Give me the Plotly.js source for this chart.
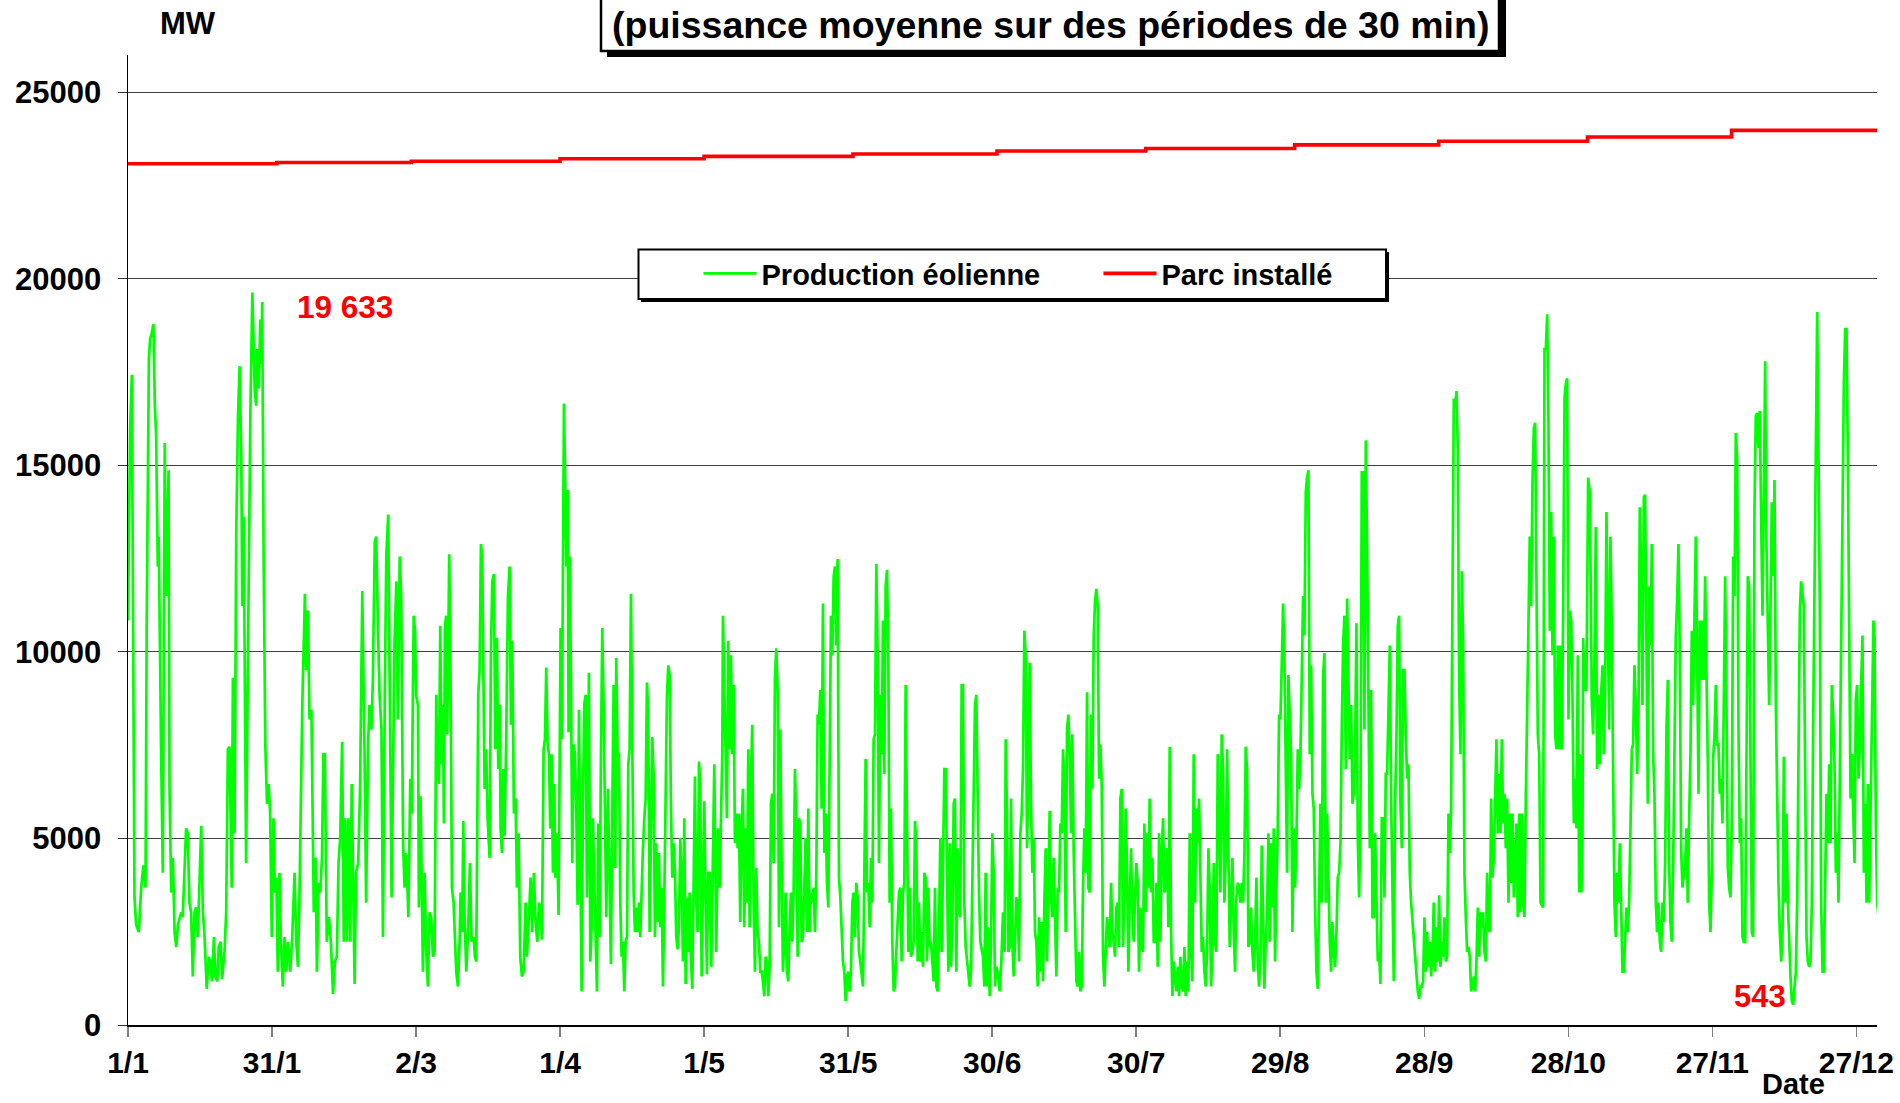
<!DOCTYPE html>
<html>
<head>
<meta charset="utf-8">
<script src="https://cdn.plot.ly/plotly-3.0.1.min.js"></script>
<style>html,body{margin:0;padding:0;background:#fff;}#chart{width:1900px;height:1103px;}</style>
</head>
<body>
<div id="chart"></div>
<script>
// ---- Data (day of year from 1 January, MW) ----
const tickDays = [0,30,60,90,120,150,180,210,240,270,300,330,360];
const tickLabels = ['1/1','31/1','2/3','1/4','1/5','31/5','30/6','30/7','29/8','28/9','28/10','27/11','27/12'];
const yTickVals = [0,5000,10000,15000,20000,25000];
const yTickLabels = ['0','5000','10000','15000','20000','25000'];

const capacityDays = [0,31,59,90,120,151,181,212,243,273,304,334,365];
const capacityMW = [23087,23119,23151,23218,23283,23347,23428,23494,23590,23687,23802,23979,23979];

const maxLabel = '19 633';
const minLabel = '543';

const prodJanFeb = [[0,10840],[0.45,16000],[0.8,17430],[1.35,3420],[1.7,2690],[2.25,2490],[2.75,3680],[3.2,4280],[3.65,3680],[3.9,10840],[4.35,17850],[4.6,18380],[4.9,18520],[5.3,18780],[5.6,16530],[5.85,15870],[6.2,12290],[6.4,13090],[6.9,7260],[7.25,4080],[7.65,15600],[7.95,11500],[8.45,14870],[8.65,6330],[9.0,3550],[9.35,4480],[9.7,2490],[10.05,2090],[10.4,2690],[10.75,2890],[11.1,3020],[11.4,2890],[11.8,4610],[12.1,5270],[12.45,5140],[12.8,3280],[13.15,3020],[13.5,1300],[13.85,3020],[14.2,3150],[14.55,2360],[14.9,3810],[15.25,5340],[15.6,3020],[15.9,2490],[16.4,970],[16.85,1830],[17.1,1700],[17.5,1170],[17.9,2360],[18.2,1300],[18.6,1170],[18.9,2090],[19.3,2230],[19.6,1230],[20.1,1960],[20.45,3020],[20.8,7390],[21.15,7460],[21.6,3680],[21.85,9310],[22.2,5140],[22.55,13220],[22.9,16270],[23.25,17660],[23.6,15200],[23.8,11230],[24.1,13620],[24.6,4340],[24.95,9380],[25.3,15470],[25.5,16530],[25.9,19633],[26.15,18520],[26.4,16990],[26.7,16600],[26.9,18120],[27.25,17060],[27.55,18910],[27.8,17720],[27.95,19380],[28.25,12560],[28.6,7520],[28.95,5930],[29.3,6460],[29.6,5670],[29.95,2360],[30.3,5540],[30.6,3550],[30.9,3950],[31.2,1430],[31.55,4080],[31.85,2230],[32.25,1030],[32.6,2360],[32.95,1430],[33.3,2230],[33.8,1430],[34.2,2360],[34.7,4080],[35.05,2230],[35.4,1560],[35.7,3280],[36.3,8580],[36.85,11560],[37.1,9510],[37.5,11100],[37.8,8190],[38.2,8450],[38.7,3020],[39.05,4480],[39.35,1430],[39.7,3810],[40.05,3550],[40.4,4480],[40.7,7260],[41.0,7260],[41.4,2230],[41.85,2890],[42.25,2230],[42.7,830],[43.1,1700],[43.5,1830],[43.85,4340],[44.2,5010],[44.6,7590],[44.95,2230],[45.25,5540],[45.6,2230],[45.9,5540],[46.3,2230],[46.6,6460],[47.2,1100],[47.5,4080],[47.95,4340],[48.35,6460],[48.8,11630],[49.3,6990],[49.6,3280],[50.0,7520],[50.3,8580],[50.7,7920],[51.0,9250],[51.4,12950],[51.7,13090],[52.1,10440],[52.4,8850],[52.8,7920],[53.1,2360],[53.5,8980],[53.8,12560],[54.2,13680],[54.6,6600],[54.9,3420],[55.2,6600],[55.5,10170],[55.9,11890],[56.2,8190],[56.6,12560],[56.9,11500],[57.3,4870],[57.6,3680],[57.8,4610],[58.1,4080],[58.4,2890],[58.8,6600],[59.1,5670],[59.5,10970],[59.8,10570],[60.0,8850]];

const prodMarApr = [[60.39,8580],[60.59,3150],[60.94,6130],[61.22,2360],[61.43,1430],[61.78,4080],[62.12,1960],[62.47,1030],[62.82,3020],[63.16,2890],[63.51,1830],[63.86,1960],[64.21,8850],[64.41,6990],[64.76,6460],[65.04,10700],[65.32,6990],[65.59,8580],[65.8,5400],[66.01,10700],[66.29,10970],[66.5,7790],[66.91,12620],[67.19,9250],[67.47,3680],[67.82,3280],[68.02,2360],[68.37,1430],[68.72,1030],[69.07,2230],[69.27,3550],[69.62,2490],[69.83,5470],[70.11,2890],[70.46,1430],[70.87,2620],[71.22,4340],[71.57,2230],[71.98,2360],[72.26,1830],[72.54,1700],[72.75,6330],[72.95,8850],[73.23,9510],[73.51,12890],[73.79,12560],[74.07,7260],[74.27,6330],[74.62,7390],[74.9,5540],[75.32,4480],[75.59,9910],[75.87,11890],[76.22,12090],[76.5,7390],[76.84,10370],[77.12,6860],[77.4,8580],[77.61,5270],[77.89,4610],[78.16,6860],[78.44,5070],[78.79,7790],[79.14,11500],[79.48,12290],[79.76,8050],[80.04,10300],[80.38,5670],[80.73,6070],[81.01,3680],[81.36,5140],[81.7,1830],[82.05,1300],[82.4,1430],[82.82,3280],[83.09,1830],[83.51,2890],[83.86,3950],[84.2,2490],[84.55,4080],[84.9,2760],[85.25,2230],[85.59,3280],[85.87,3150],[86.22,2290],[86.57,7390],[86.84,7660],[87.12,9580],[87.4,7520],[87.68,7260],[87.95,5270],[88.23,7260],[88.51,4080],[88.79,6460],[88.99,3950],[89.34,5140],[89.69,2950],[89.9,7520],[90.1,10640],[90.38,7660],[90.59,11430],[90.8,16660],[91.01,15070],[91.29,12290],[91.57,14340],[91.77,7850],[91.98,12560],[92.26,9510],[92.54,4340],[92.82,7520],[93.09,7260],[93.37,5800],[93.65,3220],[93.93,8450],[94.2,4870],[94.48,900],[94.76,5930],[95.04,8580],[95.32,8850],[95.59,3420],[96.01,9440],[96.29,1700],[96.57,2620],[96.84,5540],[97.12,3810],[97.4,1960],[97.68,900],[97.95,5400],[98.23,2360],[98.51,7260],[98.79,10640],[99.07,8580],[99.34,5930],[99.62,2890],[99.97,6330],[100.32,3280],[100.59,1630],[100.87,5670],[101.15,9110],[101.5,4210],[101.7,9840],[101.98,7260],[102.26,7260],[102.54,3280],[102.81,1830],[103.09,2230],[103.37,900],[103.65,2230],[103.93,2360],[104.2,6990],[104.48,7390],[104.76,11560],[105.04,7390],[105.32,3550],[105.59,2490],[105.87,3150],[106.15,2490],[106.43,3280],[106.7,2360],[106.98,3810],[107.26,4740],[107.54,5540],[107.82,6070],[108.09,9180],[108.37,8320],[108.65,2490],[108.93,5270],[109.2,7720],[109.48,6730],[109.76,2360],[110.04,4870],[110.32,2760],[110.59,4610],[110.87,2620],[111.15,3680],[111.43,1030],[111.7,3280],[111.98,6070],[112.26,8850],[112.54,9640],[112.82,9380],[113.09,5800],[113.37,3950],[113.65,4870],[113.93,4080],[114.2,2360],[114.48,2030],[114.76,2620],[115.04,5010],[115.32,3950],[115.59,1700],[115.87,5540],[116.15,1100],[116.43,3420],[116.7,1960],[116.98,3550],[117.26,1700],[117.54,970],[117.82,3550],[118.09,6660],[118.37,3280],[118.65,2490],[118.93,7060],[119.2,6460],[119.48,1300],[119.76,3280],[120.04,6000],[120.32,3280],[120.59,1360],[120.87,4080],[121.15,4080]];

const prodMayJun = [[121.49,1560],[122.12,6990],[122.53,1960],[122.88,5270],[123.23,3680],[123.5,5270],[123.78,7260],[123.92,10970],[124.2,9110],[124.48,7790],[124.75,5540],[125.03,10300],[125.31,7390],[125.59,9910],[125.87,7260],[126.14,9110],[126.42,4870],[126.7,5670],[126.98,4740],[127.25,5670],[127.53,2760],[127.81,5270],[128.09,6330],[128.37,2620],[128.64,5270],[128.92,3280],[129.2,7390],[129.48,2620],[129.75,6600],[130.03,8050],[130.31,3280],[130.59,1430],[130.87,4210],[131.14,2490],[131.42,2230],[131.7,1430],[131.98,1430],[132.25,1170],[132.53,770],[132.81,1830],[133.09,1700],[133.37,770],[133.64,1560],[133.92,5930],[134.2,6200],[134.48,4340],[134.75,9310],[135.03,10100],[135.31,8980],[135.59,2620],[135.87,7920],[136.14,4340],[136.42,1430],[136.7,2230],[136.98,3550],[137.25,1430],[137.53,1170],[137.81,2620],[138.09,3550],[138.37,2230],[138.64,3550],[138.92,6860],[139.2,5270],[139.48,1830],[139.75,5540],[140.03,5400],[140.31,2230],[140.59,2360],[140.87,3680],[141.14,5010],[141.42,2490],[141.7,5800],[141.98,2490],[142.25,3550],[142.53,3280],[142.81,3680],[143.09,2490],[143.37,4080],[143.64,8320],[143.92,8050],[144.2,8980],[144.48,5800],[144.75,11300],[145.03,4610],[145.31,5670],[145.59,3810],[145.87,3150],[146.14,7260],[146.42,10970],[146.7,9910],[146.98,12030],[147.25,12290],[147.53,10170],[147.81,12490],[148.09,3950],[148.37,3420],[148.64,2760],[148.92,1700],[149.2,1430],[149.48,640],[149.75,1300],[150.03,1430],[150.31,900],[150.59,1430],[150.87,3280],[151.14,3550],[151.42,2360],[151.7,3810],[151.98,3420],[152.25,1960],[152.53,1700],[152.81,1430],[153.09,1030],[153.37,4080],[153.64,7130],[153.92,3550],[154.2,3810],[154.48,2620],[154.75,4480],[155.03,3280],[155.31,7660],[155.59,7790],[155.87,12360],[156.14,9910],[156.42,4340],[156.7,8850],[156.98,7260],[157.25,10840],[157.53,6730],[157.81,11760],[158.09,12200],[158.37,9910],[158.64,3280],[158.92,5800],[159.2,2230],[159.48,900],[159.75,1030],[160.03,1960],[160.31,2890],[160.59,3550],[160.87,3680],[161.14,1700],[161.42,3550],[161.7,3810],[161.98,9110],[162.25,5930],[162.53,1960],[162.81,3680],[163.09,1830],[163.37,1960],[163.64,2230],[163.92,5470],[164.2,4870],[164.48,1700],[164.75,3280],[165.03,1700],[165.31,2490],[165.59,1560],[165.87,4080],[166.14,3950],[166.42,1700],[166.7,3680],[166.98,2090],[167.25,2230],[167.53,1700],[167.81,1170],[168.09,3680],[168.37,1030],[168.64,900],[168.92,2490],[169.2,5010],[169.48,1960],[169.75,4080],[170.03,6860],[170.31,6860],[170.59,3280],[170.87,1430],[171.14,4870],[171.42,1560],[171.7,2620],[171.98,5930],[172.25,6070],[172.53,1430],[172.81,4740],[173.09,3020],[173.37,2890],[173.64,9110],[173.92,9110],[174.2,3280],[174.48,2090],[174.75,1700],[175.03,1300],[175.31,1030],[175.59,1430],[175.86,3810],[176.14,6460],[176.42,8580],[176.7,8850],[176.98,5270],[177.25,3550],[177.53,2230],[177.81,1960],[178.09,1830],[178.37,1030],[178.64,4080],[178.92,1030],[179.2,2620],[179.48,770],[179.75,2230],[180.03,5140],[180.31,4080],[180.59,1030],[180.87,1560],[181.14,1430],[181.42,1170]];

const prodJulAug = [[181.56,900],[181.91,1700],[182.26,3020],[182.6,1960],[182.81,7660],[183.09,5670],[183.37,1960],[183.65,2090],[183.92,6070],[184.2,2230],[184.48,1300],[184.76,2230],[185.04,3420],[185.31,3280],[185.59,1700],[185.87,5140],[186.15,5670],[186.42,6860],[186.7,10570],[186.98,9910],[187.26,4740],[187.54,6600],[187.81,9710],[188.09,5930],[188.37,4080],[188.65,5010],[188.92,2490],[189.2,2230],[189.48,1030],[189.76,2890],[190.04,1430],[190.31,2760],[190.59,1170],[190.87,3280],[191.15,4740],[191.42,1700],[191.7,3950],[191.98,5740],[192.26,3420],[192.54,2890],[192.81,4480],[193.09,3150],[193.37,1300],[193.65,3680],[193.92,3550],[194.2,5400],[194.48,5140],[194.76,7390],[195.04,6460],[195.31,2490],[195.59,7920],[195.87,8320],[196.15,7260],[196.42,5140],[196.7,7790],[196.98,4610],[197.26,2760],[197.54,1170],[197.81,1030],[198.09,1960],[198.37,900],[198.65,1030],[198.92,3680],[199.2,5270],[199.48,4080],[199.76,8920],[200.04,3680],[200.31,3550],[200.59,8320],[200.87,6330],[201.15,10440],[201.42,11360],[201.7,11690],[201.98,11230],[202.26,6600],[202.54,7520],[202.81,6460],[203.09,1830],[203.37,1030],[203.65,2230],[203.92,2890],[204.2,2490],[204.48,2090],[204.76,3810],[205.04,2490],[205.31,2230],[205.59,1830],[205.87,3150],[206.15,3280],[206.42,2090],[206.7,6070],[206.98,6330],[207.26,2090],[207.54,3550],[207.81,5800],[208.09,4210],[208.37,1430],[208.65,3280],[208.92,4740],[209.2,3020],[209.48,2230],[209.76,3420],[210.04,4340],[210.31,3810],[210.59,1430],[210.87,3150],[211.15,2090],[211.42,1960],[211.7,5400],[211.98,3020],[212.26,5140],[212.54,3680],[212.81,6070],[213.09,3550],[213.37,4480],[213.65,2230],[213.92,2230],[214.2,3810],[214.48,1560],[214.76,5140],[215.04,2230],[215.31,4610],[215.59,5540],[215.87,3550],[216.15,3680],[216.42,4740],[216.7,2620],[216.98,7460],[217.26,2490],[217.54,770],[217.81,1700],[218.09,1300],[218.37,900],[218.65,1560],[218.92,770],[219.2,1830],[219.48,1030],[219.76,900],[220.04,2090],[220.31,770],[220.59,1700],[220.87,900],[221.15,5140],[221.42,2090],[221.7,1170],[221.98,7260],[222.26,3280],[222.54,5800],[222.81,4870],[223.09,6070],[223.37,3680],[223.65,1960],[223.92,2360],[224.2,1430],[224.48,1030],[224.76,1960],[225.04,4740],[225.31,3680],[225.59,1030],[225.87,1960],[226.15,4340],[226.42,2230],[226.7,1960],[226.98,7260],[227.26,5670],[227.54,3550],[227.81,7790],[228.09,6860],[228.37,3280],[228.65,4480],[228.92,7390],[229.2,4210],[229.48,2090],[229.76,3280],[230.04,4480],[230.31,2620],[230.59,1430],[230.87,3420],[231.15,3810],[231.42,3680],[231.7,3280],[231.98,3810],[232.26,3280],[232.54,4610],[232.81,7460],[233.09,6860],[233.37,2090],[233.65,2230],[233.92,3150],[234.2,1960],[234.48,1430],[234.76,2230],[235.04,3950],[235.31,1700],[235.59,1030],[235.87,1830],[236.15,4810],[236.42,3020],[236.7,970],[236.98,2230],[237.26,3020],[237.54,5140],[237.81,2230],[238.09,4870],[238.37,3150],[238.65,5270],[238.92,1700],[239.2,3550],[239.48,5270],[239.76,8320],[240.04,8190],[240.31,9640],[240.59,11300],[240.87,9910],[241.15,6990],[241.42,4080],[241.7,9380],[241.98,8320]];

const prodSepOct = [[242.26,7260],[242.54,2490],[242.82,5270],[243.09,3680],[243.37,4870],[243.65,7390],[243.93,6330],[244.21,7260],[244.48,9910],[244.76,11500],[245.04,10440],[245.32,14280],[245.59,14680],[245.87,14870],[246.15,7260],[246.43,9640],[246.71,6200],[246.98,5800],[247.26,3150],[247.54,1430],[247.82,970],[248.09,2890],[248.37,5930],[248.65,3280],[248.93,9380],[249.21,9970],[249.48,3280],[249.76,5670],[250.04,3280],[250.32,2230],[250.59,1430],[250.87,2760],[251.15,1960],[251.43,1560],[251.71,2490],[251.98,3950],[252.26,4080],[252.54,4870],[252.82,7920],[253.09,10170],[253.37,10970],[253.65,6860],[253.93,11430],[254.21,9510],[254.48,7130],[254.76,8580],[255.04,5930],[255.32,6200],[255.59,7260],[255.87,10770],[256.15,5010],[256.43,3420],[256.71,5540],[256.98,14810],[257.26,14810],[257.54,7920],[257.82,15670],[258.09,12820],[258.37,8850],[258.65,4740],[258.93,8980],[259.21,2890],[259.48,2890],[259.76,5140],[260.04,3420],[260.32,1700],[260.59,1960],[260.87,1100],[261.15,5540],[261.43,5540],[261.71,3420],[261.98,6730],[262.26,6730],[262.54,8190],[262.82,10170],[263.09,6200],[263.37,4210],[263.65,1170],[263.93,5930],[264.21,7790],[264.48,10700],[264.76,10970],[265.04,5930],[265.32,4740],[265.59,9510],[265.87,9510],[266.15,7790],[266.43,6600],[266.71,6990],[266.98,4080],[267.26,3280],[267.54,2760],[267.82,2230],[268.09,1700],[268.37,1170],[268.65,900],[268.93,700],[269.21,1030],[269.48,1030],[269.76,1170],[270.04,2890],[270.32,1430],[270.59,2490],[270.87,1560],[271.15,2230],[271.43,1300],[271.71,1960],[271.98,3280],[272.26,1430],[272.54,2620],[272.82,1700],[273.09,3480],[273.37,1560],[273.65,2230],[273.93,1830],[274.21,2890],[274.48,1700],[274.76,1830],[275.04,5670],[275.32,4610],[275.59,5800],[275.87,11890],[276.15,16790],[276.43,16530],[276.71,16990],[276.98,15470],[277.26,9250],[277.54,7260],[277.82,12160],[278.09,10300],[278.37,4080],[278.65,2890],[278.93,1960],[279.21,2090],[279.48,1830],[279.76,900],[280.04,1030],[280.32,1300],[280.59,900],[280.87,1700],[281.15,3150],[281.43,1830],[281.71,3020],[281.98,2620],[282.26,3020],[282.54,1960],[282.82,1700],[283.09,4080],[283.37,2620],[283.65,2490],[283.93,6070],[284.21,3950],[284.48,4480],[284.76,6070],[285.04,7660],[285.32,5140],[285.59,6730],[285.87,5140],[286.15,7660],[286.43,5400],[286.71,6200],[286.98,4740],[287.26,6070],[287.54,3280],[287.82,5670],[288.09,3810],[288.37,5670],[288.65,3420],[288.93,4610],[289.21,5400],[289.48,2890],[289.76,5670],[290.04,3020],[290.32,5670],[290.6,3280],[290.87,2890],[291.15,6070],[291.43,8850],[291.71,11230],[291.98,13090],[292.26,11230],[292.54,14540],[292.82,16000],[293.09,16140],[293.37,11890],[293.65,7790],[293.93,7260],[294.21,3280],[294.48,3220],[294.76,3150],[295.04,18120],[295.32,18120],[295.6,19050],[295.87,16140],[296.15,10570],[296.43,13750],[296.71,9910],[296.98,13090],[297.26,7790],[297.54,7390],[297.82,10170],[298.09,7390],[298.37,10170],[298.65,7390],[298.93,11100],[299.21,16790],[299.48,17190],[299.76,17330],[300.04,8190],[300.32,11100],[300.6,10840],[300.87,8850],[301.15,5400],[301.43,6600],[301.71,5270],[301.98,9910],[302.26,3550]];

const prodNovDec = [[302.39,7260],[302.74,3550],[302.95,4870],[303.09,10370],[303.44,8980],[303.78,8980],[304.13,14670],[304.48,14280],[304.69,11230],[304.89,8710],[305.17,7790],[305.45,9910],[305.73,13350],[306.0,6860],[306.28,8850],[306.56,6990],[306.84,8850],[307.12,9640],[307.39,7260],[307.67,8850],[307.95,13750],[308.23,11230],[308.5,7920],[308.78,13090],[309.06,10700],[309.34,6730],[309.62,3280],[309.89,2360],[310.17,4080],[310.45,3280],[310.73,4870],[311.0,3280],[311.28,1430],[311.56,1430],[311.84,2360],[312.12,3150],[312.39,2490],[312.67,3280],[312.95,5270],[313.23,7390],[313.5,7520],[313.78,9640],[314.06,8580],[314.34,6730],[314.62,8320],[314.89,13880],[315.17,12290],[315.45,8580],[315.73,14150],[316.0,14210],[316.28,10170],[316.56,5930],[316.84,11760],[317.12,10170],[317.39,12890],[317.67,7260],[317.95,6200],[318.23,3280],[318.5,2490],[318.78,3280],[319.06,2230],[319.34,1960],[319.62,3280],[319.89,2760],[320.17,4340],[320.45,7920],[320.73,9250],[321.0,4340],[321.28,2760],[321.56,2230],[321.84,4210],[322.12,8450],[322.39,10440],[322.67,11360],[322.95,12890],[323.23,9910],[323.5,4740],[323.78,3680],[324.06,3950],[324.34,4340],[324.62,5270],[324.89,3280],[325.17,5540],[325.45,7260],[325.73,10570],[326.0,8580],[326.28,10970],[326.56,13090],[326.84,9910],[327.12,6200],[327.39,10840],[327.67,9250],[327.95,10840],[328.23,9250],[328.5,12030],[328.78,9910],[329.06,6990],[329.34,3280],[329.62,2490],[329.89,4080],[330.17,7130],[330.45,7790],[330.73,9110],[331.0,7520],[331.28,7520],[331.56,6200],[331.84,6600],[332.12,5400],[332.39,8850],[332.67,12030],[332.95,8580],[333.23,4210],[333.5,3680],[333.78,3420],[334.06,5540],[334.34,12560],[334.62,11500],[334.89,15870],[335.17,15200],[335.45,7920],[335.73,4870],[336.0,5540],[336.28,2360],[336.56,2230],[336.84,2230],[337.12,7920],[337.39,12030],[337.67,11760],[337.95,6860],[338.23,2490],[338.5,2360],[338.78,13880],[339.06,16330],[339.34,16400],[339.62,15470],[339.89,16460],[340.17,13620],[340.45,10970],[340.73,14150],[341.0,17790],[341.28,12820],[341.56,10700],[341.84,8580],[342.12,11230],[342.39,14010],[342.67,12030],[342.95,14610],[343.23,8580],[343.5,5400],[343.78,3810],[344.06,2490],[344.34,1700],[344.62,2490],[344.89,7190],[345.17,3280],[345.45,5670],[345.73,3280],[346.0,2090],[346.28,1300],[346.56,640],[346.84,543],[347.12,1030],[347.4,1430],[347.67,3280],[347.95,7260],[348.23,11100],[348.5,11890],[348.78,11500],[349.06,11230],[349.34,6600],[349.62,2360],[349.89,1700],[350.17,1560],[350.45,1700],[350.73,3280],[351.0,7920],[351.28,11760],[351.56,16530],[351.84,19110],[352.12,15200],[352.39,11230],[352.67,3280],[352.95,1430],[353.23,1430],[353.5,3810],[353.78,6200],[354.06,4870],[354.34,6990],[354.62,4870],[354.89,9110],[355.17,8320],[355.45,6990],[355.73,4080],[356.0,5140],[356.28,3280],[356.56,7260],[356.84,11230],[357.12,14150],[357.39,17190],[357.67,18650],[357.95,18650],[358.23,15200],[358.5,11230],[358.78,6070],[359.06,7260],[359.34,5930],[359.62,4340],[359.89,8720],[360.17,9110],[360.45,6600],[360.73,7520],[361.0,9110],[361.28,10440],[361.56,4080],[361.84,5930],[362.12,3280],[362.39,6460],[362.67,3280],[362.95,5930],[363.23,7790],[363.56,10840],[363.78,10440],[364.06,5400],[364.34,3280],[364.62,2890]];

// ---- Build traces ----
const prodAll = [].concat(prodJanFeb, prodMarApr, prodMayJun, prodJulAug, prodSepOct, prodNovDec);
const prodX = prodAll.map(p => p[0]);
const prodY = prodAll.map(p => p[1]);

const FONT = 'Liberation Sans, Arial, Helvetica, sans-serif';
const W = 1900, H = 1103;
const M = {l:128, r:23, t:55, b:78};
const PW = W - M.l - M.r, PH = H - M.t - M.b;
// helpers: pixel position on the page -> paper coordinates (layout placement only)
const px = x => (x - M.l) / PW;
const py = y => (H - M.b - y) / PH;

const traces = [
  {x: prodX, y: prodY, type: 'scatter', mode: 'lines', name: 'Production éolienne',
   line: {color: '#00ff00', width: 2.7}, hoverinfo: 'skip'},
  {x: capacityDays, y: capacityMW, type: 'scatter', mode: 'lines', name: 'Parc installé',
   line: {color: '#ff0000', width: 3.6, shape: 'hv'}, hoverinfo: 'skip'}
];

const bold = (size, color) => ({family: FONT, size: size, color: color || '#000', weight: 'bold'});

const layout = {
  width: W, height: H,
  margin: M,
  paper_bgcolor: '#fff', plot_bgcolor: '#fff',
  showlegend: true,
  legend: {orientation: 'h', x: px(698.5), y: py(248), xanchor: 'left', yanchor: 'top',
    bgcolor: 'rgba(0,0,0,0)', borderwidth: 0, font: bold(29), itemwidth: 53,
    entrywidth: 332, entrywidthmode: 'pixels', traceorder: 'normal'},
  xaxis: {range: [0, 364.3], tickmode: 'array', tickvals: tickDays, ticktext: tickLabels,
    ticks: 'outside', ticklen: 10, tickwidth: 1.5, tickcolor: '#808080',
    showline: true, linecolor: '#000', linewidth: 2, showgrid: false, zeroline: false,
    tickfont: bold(30), fixedrange: true},
  yaxis: {range: [0, 26000], tickmode: 'array', tickvals: yTickVals, ticktext: yTickLabels,
    ticks: 'outside', ticklen: 9, tickwidth: 1, tickcolor: '#333', ticklabelstandoff: 10,
    showline: true, linecolor: '#000', linewidth: 1.5, showgrid: true, gridcolor: '#404040', gridwidth: 1,
    zeroline: false, tickfont: bold(31), fixedrange: true},
  shapes: [
    // title frame with drop shadow
    {type: 'rect', xref: 'paper', yref: 'paper', x0: px(607), x1: px(1506), y0: py(57), y1: py(-20),
     fillcolor: '#000', line: {width: 0}, layer: 'above'},
    {type: 'rect', xref: 'paper', yref: 'paper', x0: px(601), x1: px(1499), y0: py(51), y1: py(-20),
     fillcolor: '#fff', line: {color: '#000', width: 2.5}, layer: 'above'},
    // legend frame with small shadow
    {type: 'rect', xref: 'paper', yref: 'paper', x0: px(641), x1: px(1389), y0: py(302), y1: py(252),
     fillcolor: '#000', line: {width: 0}, layer: 'above'},
    {type: 'rect', xref: 'paper', yref: 'paper', x0: px(638.5), x1: px(1386), y0: py(299), y1: py(249.5),
     fillcolor: '#fff', line: {color: '#000', width: 2}, layer: 'above'},
    // white gap in the 20000 gridline behind the maximum label
    {type: 'rect', xref: 'paper', yref: 'paper', x0: px(277), x1: px(409), y0: py(284), y1: py(272),
     fillcolor: '#fff', line: {width: 0}, layer: 'between'}
  ],
  annotations: [
    {xref: 'paper', yref: 'paper', x: px(1050), y: py(25), text: '(puissance moyenne sur des périodes de 30 min)',
     showarrow: false, font: bold(37.5), xanchor: 'center', yanchor: 'middle'},
    {xref: 'paper', yref: 'paper', x: px(188), y: py(24), text: 'MW', showarrow: false,
     font: bold(31), xanchor: 'center', yanchor: 'middle'},
    {xref: 'paper', yref: 'paper', x: px(1793), y: py(1084), text: 'Date', showarrow: false,
     font: bold(29), xanchor: 'center', yanchor: 'middle'},
    {xref: 'paper', yref: 'paper', x: px(345), y: py(307), text: maxLabel, showarrow: false,
     font: bold(31.5, '#ff0000'), xanchor: 'center', yanchor: 'middle'},
    {xref: 'paper', yref: 'paper', x: px(1760), y: py(996), text: minLabel, showarrow: false,
     font: bold(31, '#ff0000'), xanchor: 'center', yanchor: 'middle'}
  ]
};

Plotly.newPlot('chart', traces, layout, {displayModeBar: false, staticPlot: true});
</script>
</body>
</html>
